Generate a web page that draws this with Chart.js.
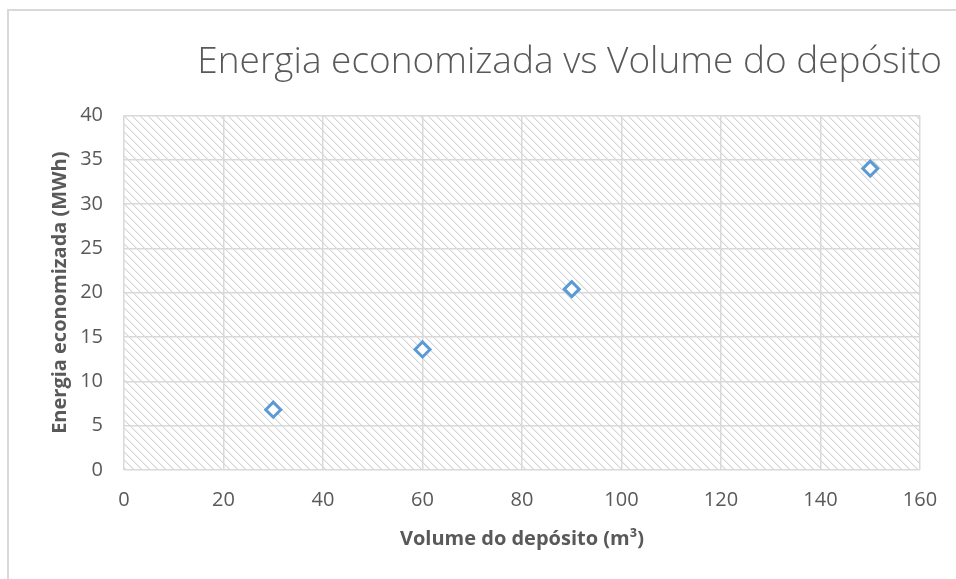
<!DOCTYPE html>
<html>
<head>
<meta charset="utf-8">
<script src="https://cdn.jsdelivr.net/npm/chart.js@4.4.0/dist/chart.umd.min.js"></script>
<style>
    html, body { margin: 0; padding: 0; background: #fff; }
    #wrap { position: relative; width: 956px; height: 579px; overflow: hidden; }
    #frame { position: absolute; left: 7px; top: 9px; width: 1000px; height: 700px;
             border-left: 2px solid #d9d9d9; border-top: 2px solid #d9d9d9; }
    canvas { position: absolute; left: 0; top: 0; }
</style>
</head>
<body>
<div id="wrap">
    <div id="frame"></div>
    <canvas id="scatterChart" width="956" height="579"></canvas>
</div>
<script>
let volumes = [30, 60, 90, 150];
let energySaved = [6.8, 13.6, 20.4, 34.0];
let xTicks = [0, 20, 40, 60, 80, 100, 120, 140, 160];
let yTicks = [0, 5, 10, 15, 20, 25, 30, 35, 40];

const textColor = '#595959';
const gridColor = '#d9d9d9';

function hatchPattern() {
    let tile = document.createElement('canvas');
    tile.width = 8;
    tile.height = 8;
    let t = tile.getContext('2d');
    t.fillStyle = '#ffffff';
    t.fillRect(0, 0, 8, 8);
    for (let i = 0; i < 8; i++) {
        t.fillStyle = '#d6d6d6';
        t.fillRect(i, i, 1, 1);
        t.fillStyle = '#ececec';
        t.fillRect((i + 1) % 8, i, 1, 1);
    }
    return document.getElementById('scatterChart').getContext('2d').createPattern(tile, 'repeat');
}

const plotBackground = {
    id: 'plotBackground',
    beforeDraw(chart) {
        const {ctx, chartArea} = chart;
        ctx.save();
        ctx.fillStyle = hatchPattern();
        ctx.fillRect(chartArea.left, chartArea.top, chartArea.right - chartArea.left, chartArea.bottom - chartArea.top);
        ctx.restore();
    }
};

let points = volumes.map((v, i) => ({x: v, y: energySaved[i]}));

const ctx = document.getElementById('scatterChart').getContext('2d');
let scatterChart = new Chart(ctx, {
    type: 'scatter',
    data: {
        datasets: [{
            label: 'Energia economizada',
            data: points,
            pointStyle: 'rectRot',
            pointRadius: 7.5,
            pointHoverRadius: 7.5,
            pointBorderWidth: 3,
            pointBackgroundColor: '#ffffff',
            pointBorderColor: '#5b9bd5',
        }]
    },
    options: {
        responsive: false,
        animation: false,
        layout: {
            padding: {left: 0, right: 14, top: 0, bottom: 0}
        },
        plugins: {
            legend: {display: false},
            tooltip: {enabled: false},
            title: {
                display: true,
                text: 'Energia economizada vs Volume do depósito',
                align: 'end',
                color: textColor,
                font: {family: 'Open Sans', size: 37, weight: 300},
                padding: {top: 40, bottom: 31},
            },
        },
        scales: {
            x: {
                type: 'linear',
                min: 0,
                max: 160,
                afterBuildTicks: (scale) => { scale.ticks = xTicks.map(v => ({value: v})); },
                afterFit: (scale) => { scale.height = 109; scale.paddingRight = 36; },
                grid: {color: gridColor, lineWidth: 1.5, drawTicks: false},
                border: {display: false},
                ticks: {color: textColor, padding: 18, font: {family: 'Open Sans', size: 20}},
                title: {
                    display: true,
                    text: 'Volume do depósito (m³)',
                    color: textColor,
                    font: {family: 'Open Sans', size: 20, weight: 'bold'},
                    padding: {top: 4, bottom: 28},
                },
            },
            y: {
                type: 'linear',
                min: 0,
                max: 40,
                afterBuildTicks: (scale) => { scale.ticks = yTicks.map(v => ({value: v})); },
                afterFit: (scale) => { scale.width = 124; },
                grid: {color: gridColor, lineWidth: 1.5, drawTicks: false},
                border: {display: false},
                ticks: {color: textColor, padding: 21, font: {family: 'Open Sans', size: 20}},
                title: {
                    display: true,
                    text: 'Energia economizada (MWh)',
                    color: textColor,
                    font: {family: 'Open Sans', size: 20, weight: 'bold'},
                    padding: {top: 48, bottom: 0},
                },
            },
        },
    },
    plugins: [plotBackground],
});
</script>
</body>
</html>
